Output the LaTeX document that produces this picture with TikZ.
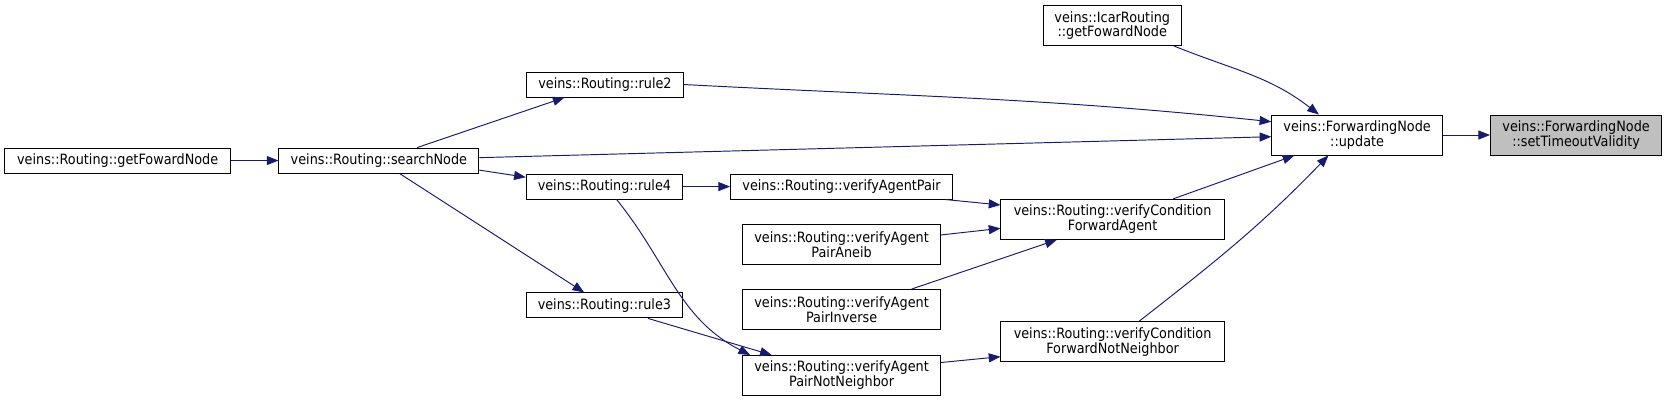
\documentclass[tikz,border=0pt]{standalone}
\usepackage{fontspec}
\setmainfont{DejaVu Sans}[FakeStretch=0.9]
\usetikzlibrary{arrows.meta}
\definecolor{edgeblue}{HTML}{191970}
\definecolor{rootgray}{HTML}{BFBFBF}
\begin{document}
\begin{tikzpicture}[x=1pt,y=-1pt,
  fn/.style={draw=black, line width=0.9pt, fill=white, inner sep=0pt, align=center,
    font=\fontsize{13.4}{14}\selectfont, minimum height=23.5pt},
  fn2/.style={fn, minimum height=37.6pt},
  call/.style={draw=edgeblue, line width=0.9pt, -{Triangle[length=11pt,width=8.5pt]}},
]
\useasboundingbox (0,0) rectangle (1568,377);

\node[fn, minimum width=213pt] (gfn) at (110.7,151) {veins::Routing::getFowardNode};
\node[fn, minimum width=188pt] (sn) at (356.4,151) {veins::Routing::searchNode};
\node[fn, minimum width=147pt] (r2) at (569,79.5) {veins::Routing::rule2};
\node[fn, minimum width=147pt] (r4) at (568.5,175.5) {veins::Routing::rule4};
\node[fn, minimum width=147pt] (r3) at (568.5,287.3) {veins::Routing::rule3};
\node[fn, minimum width=209pt] (vap) at (791.6,175.5) {veins::Routing::verifyAgentPair};
\node[fn2, minimum width=186pt] (aneib) at (791.6,229.8) {veins::Routing::verifyAgent\\PairAneib};
\node[fn2, minimum width=186pt] (inv) at (791.6,291.2) {veins::Routing::verifyAgent\\PairInverse};
\node[fn2, minimum width=186pt] (nn) at (791.6,353.2) {veins::Routing::verifyAgent\\PairNotNeighbor};
\node[fn2, minimum width=210pt] (vcfa) at (1046.5,206.3) {veins::Routing::verifyCondition\\ForwardAgent};
\node[fn2, minimum width=210pt] (vcfnn) at (1046.5,321.4) {veins::Routing::verifyCondition\\ForwardNotNeighbor};
\node[fn2, minimum width=130pt] (icar) at (1046.2,24) {veins::IcarRouting\\::getFowardNode};
\node[fn2, minimum width=160.5pt] (upd) at (1276.5,127) {veins::ForwardingNode\\::update};
\node[fn2, minimum width=161pt, fill=rootgray] (setT) at (1482.5,127) {veins::ForwardingNode\\::setTimeoutValidity};

\draw[call] (upd.east) -- (setT.west);
\draw[call] ([xshift=58pt]icar.south) to[out=-22,in=142] ([xshift=-36pt]upd.north);
\draw[call] (r2.east) to[out=-3,in=174] ([yshift=12.5pt]upd.west);
\draw[call] ([yshift=2.7pt]sn.east) -- ([yshift=-1.6pt]upd.west);
\draw[call] ([xshift=57pt]vcfa.north) -- ([xshift=-59pt]upd.south);
\draw[call] ([xshift=25pt]vcfnn.north) to[out=38,in=-134] ([xshift=-27pt]upd.south);
\draw[call] (gfn.east) -- (sn.west);
\draw[call] ([xshift=36pt]sn.north) -- ([xshift=-38pt]r2.south);
\draw[call] ([yshift=-9pt]sn.east) -- ([yshift=8.8pt]r4.west);
\draw[call] ([xshift=19.4pt]sn.south) -- ([xshift=-19pt]r3.north);
\draw[call] (r4.east) -- (vap.west);
\draw[call] ([xshift=11.5pt]r4.south) to[out=-51,in=153] ([xshift=-86pt]nn.north);
\draw[call] ([xshift=41pt]r3.south) -- ([xshift=-65.7pt]nn.north);
\draw[call] ([xshift=97.6pt]vap.south) -- ([yshift=13.5pt]vcfa.west);
\draw[call] ([yshift=8.8pt]aneib.east) -- ([yshift=-8.5pt]vcfa.west);
\draw[call] ([xshift=65.7pt]inv.north) -- ([xshift=-52.4pt]vcfa.south);
\draw[call] ([yshift=12.2pt]nn.east) -- ([yshift=-14.1pt]vcfnn.west);
\end{tikzpicture}
\end{document}
